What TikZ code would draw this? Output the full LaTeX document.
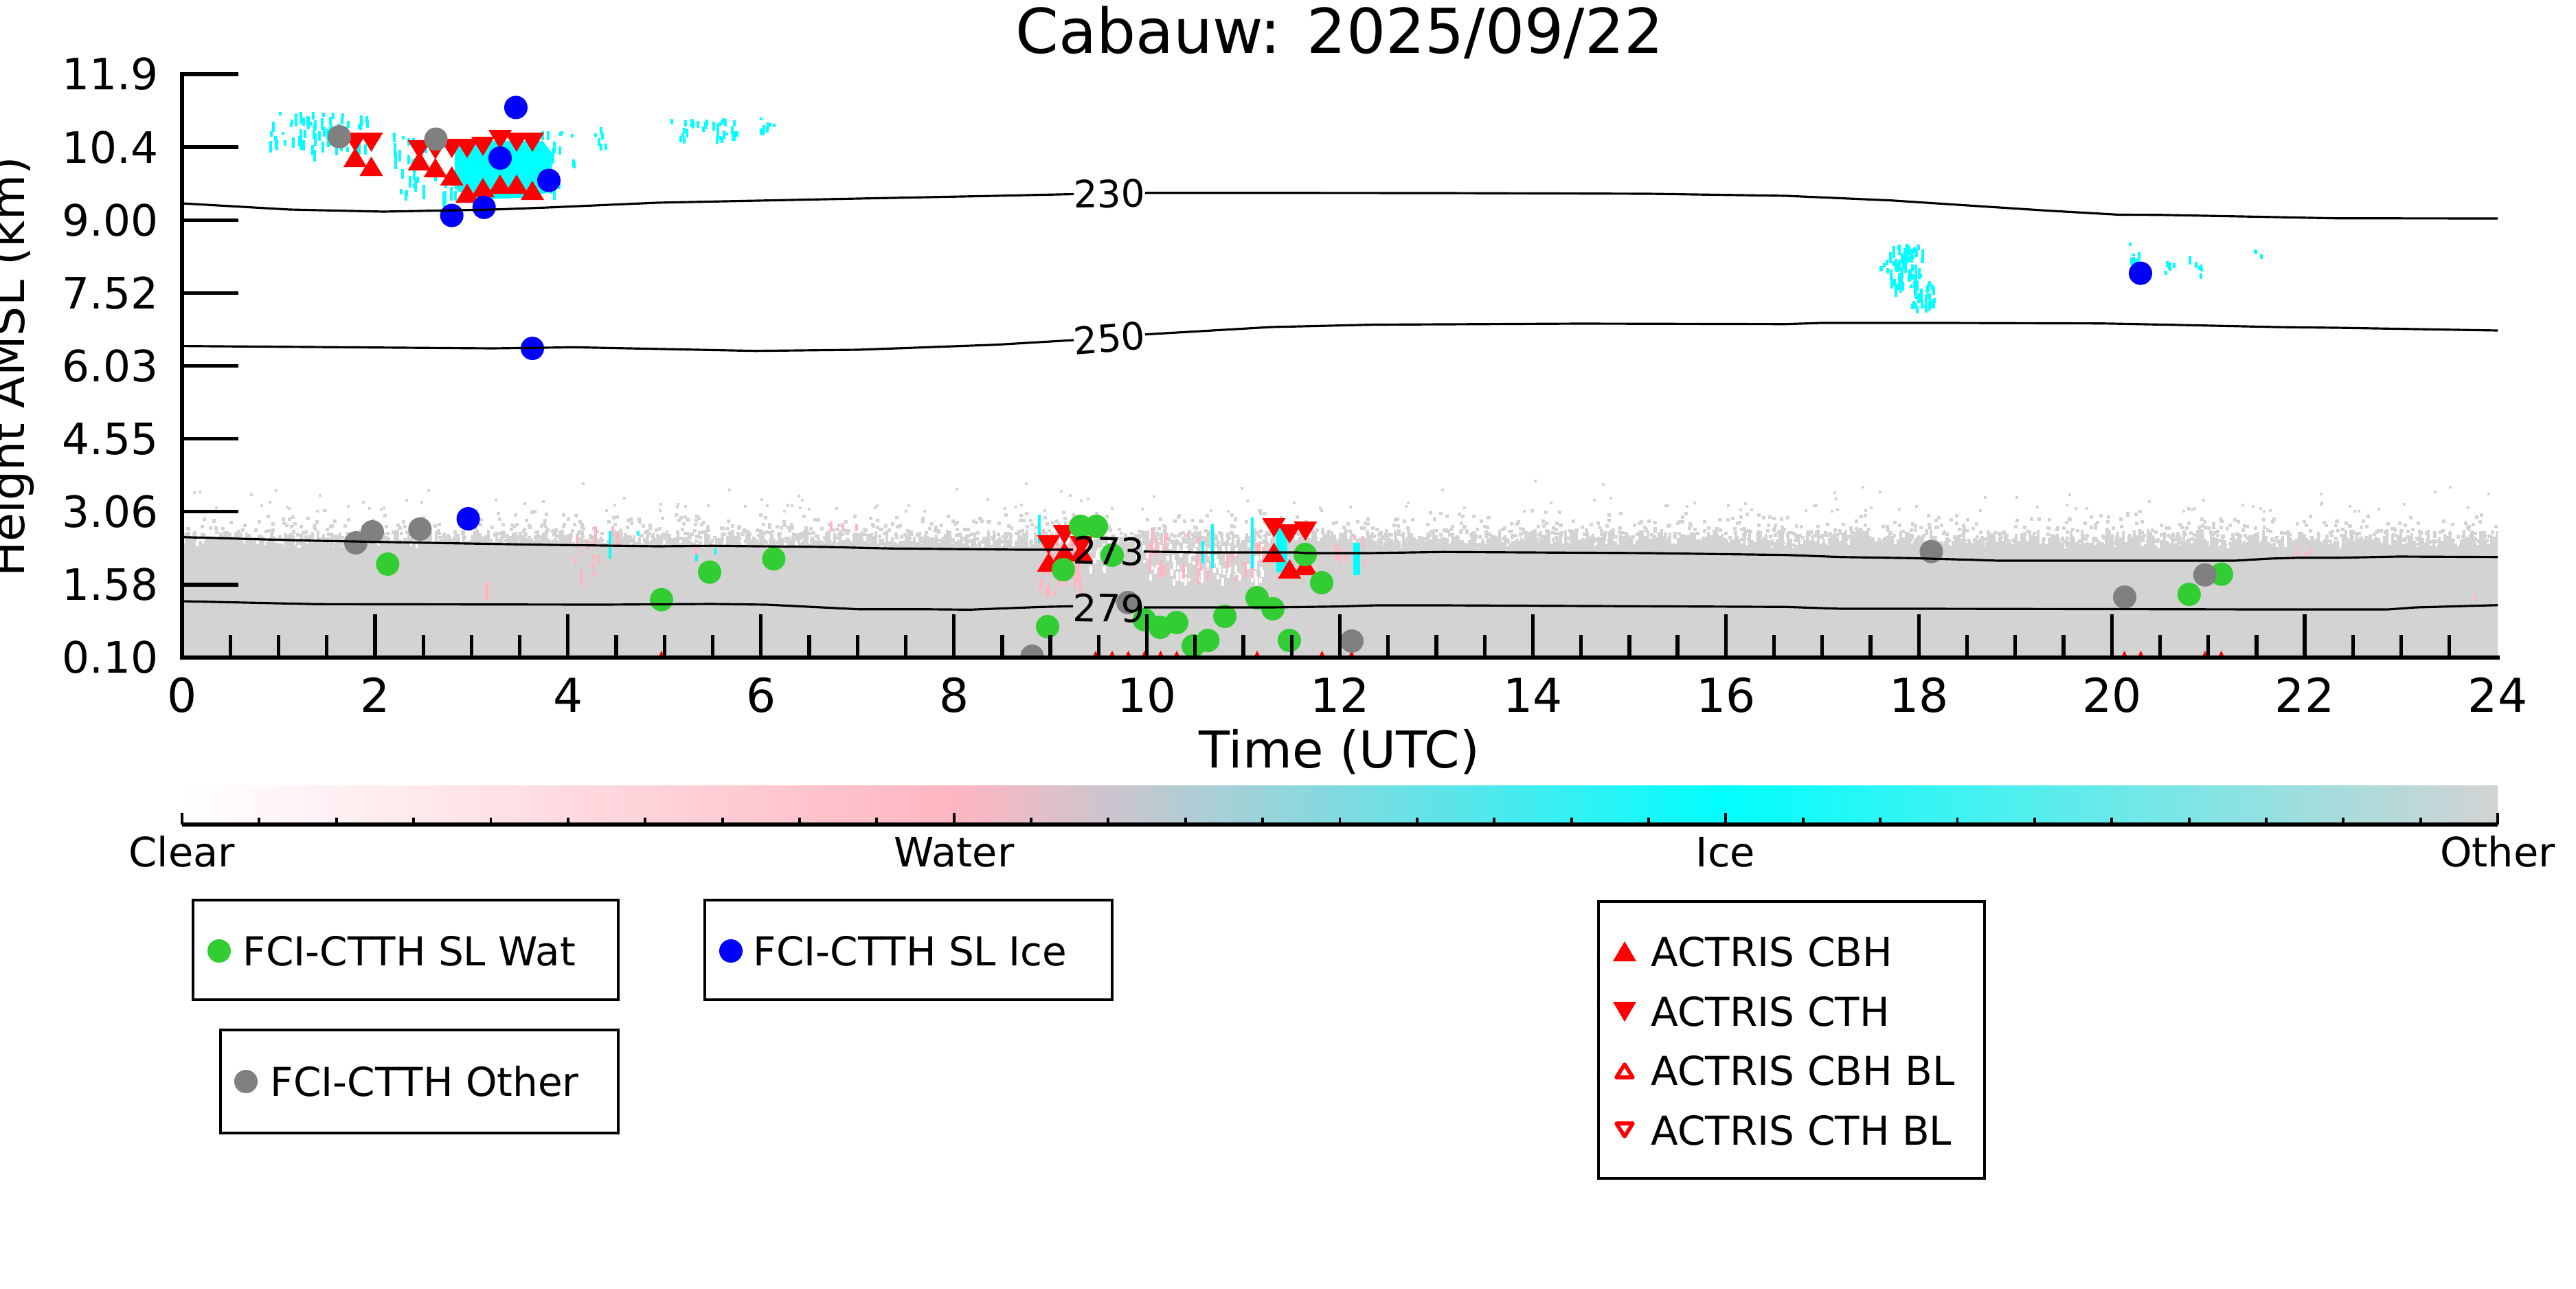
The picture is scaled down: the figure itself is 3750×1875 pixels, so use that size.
\documentclass[tikz,border=0pt]{standalone}
\usepackage{fontspec}
\setmainfont{DejaVu Sans}
\definecolor{ogray}{RGB}{211,211,211}
\definecolor{wpink}{RGB}{255,182,193}
\definecolor{icecyan}{RGB}{0,255,255}
\definecolor{mgreen}{RGB}{50,205,50}
\definecolor{mblue}{RGB}{0,0,255}
\definecolor{mgray}{RGB}{128,128,128}
\definecolor{mred}{RGB}{255,0,0}
\newcommand\cthtri[2]{\fill[mred] ({#1-17},#2) -- ({#1+17},#2) -- (#1,{#2+28}) -- cycle;}
\newcommand\cbhtri[2]{\fill[mred] ({#1-17},#2) -- ({#1+17},#2) -- (#1,{#2-28}) -- cycle;}
\newcommand\speck[7]{\foreach \k in {1,...,#6}{\pgfmathsetmacro{\px}{#2+(#3-#2)*rnd}\pgfmathsetmacro{\py}{#4+(#5-#4)*rnd}\pgfmathsetmacro{\ph}{4+#7*rnd}\fill[#1] (\px,\py) rectangle ++(4,\ph);}}
\begin{document}
\begin{tikzpicture}[x=0.01cm,y=-0.01cm,
  spine/.style={line width=1.7pt},
  tk/.style={line width=1.5pt},
  cline/.style={line width=0.9pt, line join=round},
  lbox/.style={line width=1.3pt},
  xtl/.style={inner sep=0pt, anchor=base, font=\fontsize{19.3}{22}\selectfont},
  ytl/.style={inner sep=0pt, anchor=east, font=\fontsize{17.9}{20}\selectfont},
  clab/.style={inner sep=0pt, font=\fontsize{15.6}{18}\selectfont},
  leg/.style={inner sep=0pt, anchor=base west, font=\fontsize{16.5}{19}\selectfont},
  cbl/.style={inner sep=0pt, anchor=base, font=\fontsize{16.8}{19}\selectfont},
]
\useasboundingbox (0,0) rectangle (3750,1875);
\fill[white] (0,0) rectangle (3750,1875);
\pgfmathsetseed{7}

\node[anchor=base, inner sep=0pt, font=\fontsize{25.6}{30}\selectfont] (title) at (1950,77) {Cabauw: 2025/09/22};

\begin{scope}
\clip (265,108) rectangle (3636,957);
% Other (gray) layer
\foreach \x in {265,269,...,3633}{
  \pgfmathsetmacro{\t}{770+28*rnd}
  \fill[ogray] (\x,\t) rectangle (\x+4.4,957);
}
\foreach \k in {1,...,3200}{
  \pgfmathsetmacro{\px}{265+3368*rnd}
  \pgfmathsetmacro{\py}{795-55*rnd*rnd}
  \fill[ogray] (\px,\py) rectangle ++(5,5);
}
\foreach \k in {1,...,140}{
  \pgfmathsetmacro{\px}{265+3366*rnd}
  \pgfmathsetmacro{\py}{742-45*rnd*rnd}
  \fill[ogray] (\px,\py) rectangle ++(4,4);
}
% white holes
\speck{white}{1700}{1840}{790}{845}{70}{10}
\speck{white}{1560}{1610}{790}{830}{12}{8}
\speck{white}{1650}{1700}{790}{850}{14}{8}
% pink streaks
\speck{wpink}{1505}{1580}{770}{860}{30}{30}
\speck{wpink}{1660}{1700}{765}{830}{10}{25}
\speck{wpink}{1720}{1850}{775}{840}{22}{20}
\speck{wpink}{1940}{1985}{775}{830}{8}{20}
\speck{wpink}{829}{870}{763}{860}{12}{30}
\speck{wpink}{889}{901}{763}{800}{3}{15}
\speck{wpink}{1204}{1250}{750}{785}{4}{12}
\speck{wpink}{3333}{3370}{793}{805}{4}{8}
\fill[wpink] (705,847) rectangle (711,873);
\fill[wpink] (1010,793) rectangle (1015,818);
\fill[wpink] (3601,865) rectangle (3604,875);
% cyan streaks (low clouds)
\fill[icecyan] (1511,749) rectangle (1515,790);
\fill[icecyan] (1749,787) rectangle (1753,820);
\fill[icecyan] (1763,763) rectangle (1767,827);
\fill[icecyan] (1821,753) rectangle (1825,827);
\fill[icecyan] (1858,767) rectangle (1874,833);
\fill[icecyan] (1970,790) rectangle (1980,837);
\fill[icecyan] (886,773) rectangle (890,813);
\fill[icecyan] (928,773) rectangle (931,780);
\fill[icecyan] (1012,807) rectangle (1016,817);
\fill[icecyan] (1040,797) rectangle (1043,807);
% cyan high clouds
\fill[icecyan] (662,212) -- (720,205) -- (790,205) -- (805,225) -- (800,280) -- (760,288) -- (690,290) -- (662,275) -- cycle;
\speck{icecyan}{565}{835}{190}{280}{90}{20}
\speck{icecyan}{391}{534}{162}{220}{70}{15}
\speck{icecyan}{865}{881}{184}{210}{6}{10}
\speck{icecyan}{969}{1072}{171}{202}{30}{10}
\speck{icecyan}{1104}{1132}{170}{190}{8}{8}
\speck{icecyan}{2750}{2800}{355}{415}{60}{15}
\speck{icecyan}{2780}{2815}{400}{445}{35}{10}
\speck{icecyan}{2735}{2750}{370}{395}{5}{6}
\speck{icecyan}{3097}{3113}{352}{385}{8}{10}
\speck{icecyan}{3148}{3166}{378}{395}{6}{6}
\speck{icecyan}{3184}{3204}{372}{398}{6}{8}
\speck{icecyan}{3281}{3291}{362}{374}{3}{6}

% ACTRIS triangles
\foreach \x/\t/\b in {517/193/243, 540.5/193/256, 610.6/204/248, 633.8/204/258, 657.7/202/270, 680/202/295, 703/199/287, 728/189/282, 752/193/282, 775/193/291, 1526.6/779/832, 1549.6/764/817, 1574/780/817, 1854.4/754/818, 1877.3/763/842, 1900.3/759/837}{
  \cthtri{\x}{\t}
  \cbhtri{\x}{\b}
}
\foreach \x in {963,1595,1619,1642.6,1666,1689.6,1713,1830,1924.4,1967.5,3092.6,3116.4,3210,3233.5}{
  \fill[mred] (\x-4,955) -- (\x+4,955) -- (\x,947) -- cycle;
}
% FCI-CTTH markers
\foreach \x/\y in {564.4/821, 963/872.7, 1033/832.7, 1126.4/813.3, 1573/766, 1596/766, 1619/808, 1548/829, 1525/912, 1666/902, 1689/913, 1713/906, 1737/940, 1758.5/932, 1783/897, 1830/870, 1853/886, 1877/932, 1900/807, 1924/848, 3186.8/865, 3233.9/835.7}{
  \fill[mgreen] (\x,\y) circle[radius=17];
}
\foreach \x/\y in {751/156.4, 728/230, 799/262.5, 657.7/313.6, 704.7/301.8, 775/507, 681.6/755, 3116/397.7}{
  \fill[mblue] (\x,\y) circle[radius=17];
}
\foreach \x/\y in {494/199, 634.6/202.5, 518/790, 542/774, 611.4/770, 1502.5/955, 1642/877, 1968/933, 2811.4/802.7, 3093/869, 3209.8/836.7}{
  \fill[mgray] (\x,\y) circle[radius=17];
}

% temperature contours
\draw[cline] (265,296) -- (422,305) -- (558,308) -- (717,305) -- (797,302) -- (957,295) -- (1250,289) -- (1450,285) -- (1563,282.5);
\draw[cline] (1667,280.7) -- (1800,280.7) -- (2100,281) -- (2400,282) -- (2600,285) -- (2753,291.7) -- (2880,300) -- (2983,306.7) -- (3085,312.5) -- (3141,312.7) -- (3263,315) -- (3400,317.7) -- (3636,318);
\draw[cline] (265,503.6) -- (502,505.4) -- (717,507) -- (837,505.4) -- (1100,510.7) -- (1250,509) -- (1450,501.7) -- (1563,495);
\draw[cline] (1667,486.7) -- (1850,476) -- (2000,472.5) -- (2300,471) -- (2600,471.7) -- (2651,470) -- (2830,470) -- (3059,470.7) -- (3161,472.7) -- (3314,476) -- (3400,477) -- (3636,481);
\draw[cline] (265,781.7) -- (446,786.7) -- (622,790) -- (781,792.7) -- (957,795) -- (1036,794.3) -- (1200,796) -- (1300,798.3) -- (1487,800) -- (1562,800);
\draw[cline] (1665,802.7) -- (1745,804) -- (1889,804) -- (1900,805) -- (1992,805) -- (2100,803.3) -- (2400,805) -- (2600,807.7) -- (2680,810.7) -- (2783,812.3) -- (2879,815) -- (2908,816) -- (3253,816) -- (3304,813) -- (3348,811.7) -- (3407,811.7) -- (3491,810) -- (3636,810.7);
\draw[cline] (265,875) -- (462,879.3) -- (877,880) -- (1036,879) -- (1116,880) -- (1250,886.7) -- (1343,886.7) -- (1412,887.3) -- (1516,883.3) -- (1562,882.3);
\draw[cline] (1665,884) -- (1850,884) -- (1946,882.7) -- (2004,881) -- (2100,881) -- (2600,883.3) -- (2680,886) -- (2800,886) -- (3304,887) -- (3476,887) -- (3517,884) -- (3636,880.7);
\node[clab, rotate=1] (c230) at (1615,282) {230};
\node[clab, rotate=4.5] (c250) at (1615,492) {250};
\node[clab, rotate=-1.5] (c273) at (1614,802) {273};
\node[clab, rotate=-1] (c279) at (1614,885) {279};
\end{scope}

% axes
\foreach \i in {1,...,47}{
  \pgfmathsetmacro{\xx}{265+\i*70.229}
  \pgfmathsetmacro{\yy}{ifthenelse(mod(\i,4)==0,894,924)}
  \draw[tk] (\xx,957) -- (\xx,\yy);
}
\foreach \i in {0,...,8}{
  \pgfmathsetmacro{\yy}{957-\i*106.125}
  \draw[tk] (265,\yy) -- (347,\yy);
}
\draw[spine, line cap=rect] (265,108) -- (265,957) -- (3636,957);
\foreach \h in {0,2,...,24}{
  \node[xtl] (xt\h) at ({265+\h*140.458},1036) {\h};
}
\foreach \l [count=\i from 0] in {0.10,1.58,3.06,4.55,6.03,7.52,9.00,10.4,11.9}{
  \node[ytl] (yt\i) at (231,{957-\i*106.125}) {\l};
}
\node[anchor=base, inner sep=0pt, font=\fontsize{21}{24}\selectfont] (xlab) at (1950,1117) {Time (UTC)};
\node[anchor=base, inner sep=0pt, rotate=90, font=\fontsize{19.3}{22}\selectfont] (ylab) at (35,534) {Height AMSL (km)};

% colorbar
\shade[left color=white, right color=wpink] (265,1143) rectangle (1390,1200);
\shade[left color=wpink, right color=icecyan] (1389,1143) rectangle (2513,1200);
\shade[left color=icecyan, right color=ogray] (2512,1143) rectangle (3636,1200);
\foreach \k in {0,...,30}{
  \pgfmathsetmacro{\xx}{265+\k*112.367}
  \pgfmathsetmacro{\yy}{ifthenelse(mod(\k,10)==0,1183,1190)}
  \draw[line width=1.1pt] (\xx,1200) -- (\xx,\yy);
}
\draw[spine] (265,1200) -- (3636,1200);
\node[cbl] (cbclear) at (265,1261) {Clear};
\node[cbl] (cbwater) at (1389,1261) {Water};
\node[cbl] (cbice) at (2512,1261) {Ice};
\node[cbl] (cbother) at (3636,1261) {Other};

% legends
\draw[lbox] (281,1310) rectangle (900,1455);
\fill[mgreen] (319,1384) circle[radius=17];
\node[leg] (lwat) at (353,1405) {FCI-CTTH SL Wat};
\draw[lbox] (1026,1310) rectangle (1619,1455);
\fill[mblue] (1064,1384) circle[radius=17];
\node[leg] (lice) at (1096,1405) {FCI-CTTH SL Ice};
\draw[lbox] (321,1499) rectangle (900,1649);
\fill[mgray] (358,1574) circle[radius=17];
\node[leg] (loth) at (393,1595) {FCI-CTTH Other};
\draw[lbox] (2327,1312) rectangle (2889,1715);
\fill[mred] (2348,1399) -- (2382,1399) -- (2365,1370) -- cycle;
\node[leg] (lcbh) at (2403,1406) {ACTRIS CBH};
\fill[mred] (2348,1458) -- (2382,1458) -- (2365,1487) -- cycle;
\node[leg] (lcth) at (2403,1493) {ACTRIS CTH};
\draw[mred, line width=1.6pt, line join=round] (2353,1568) -- (2377,1568) -- (2365,1549) -- cycle;
\node[leg] (lcbhbl) at (2403,1579) {ACTRIS CBH BL};
\draw[mred, line width=1.6pt, line join=round] (2353,1635) -- (2377,1635) -- (2365,1654) -- cycle;
\node[leg] (lcthbl) at (2403,1666) {ACTRIS CTH BL};
\end{tikzpicture}
\end{document}
